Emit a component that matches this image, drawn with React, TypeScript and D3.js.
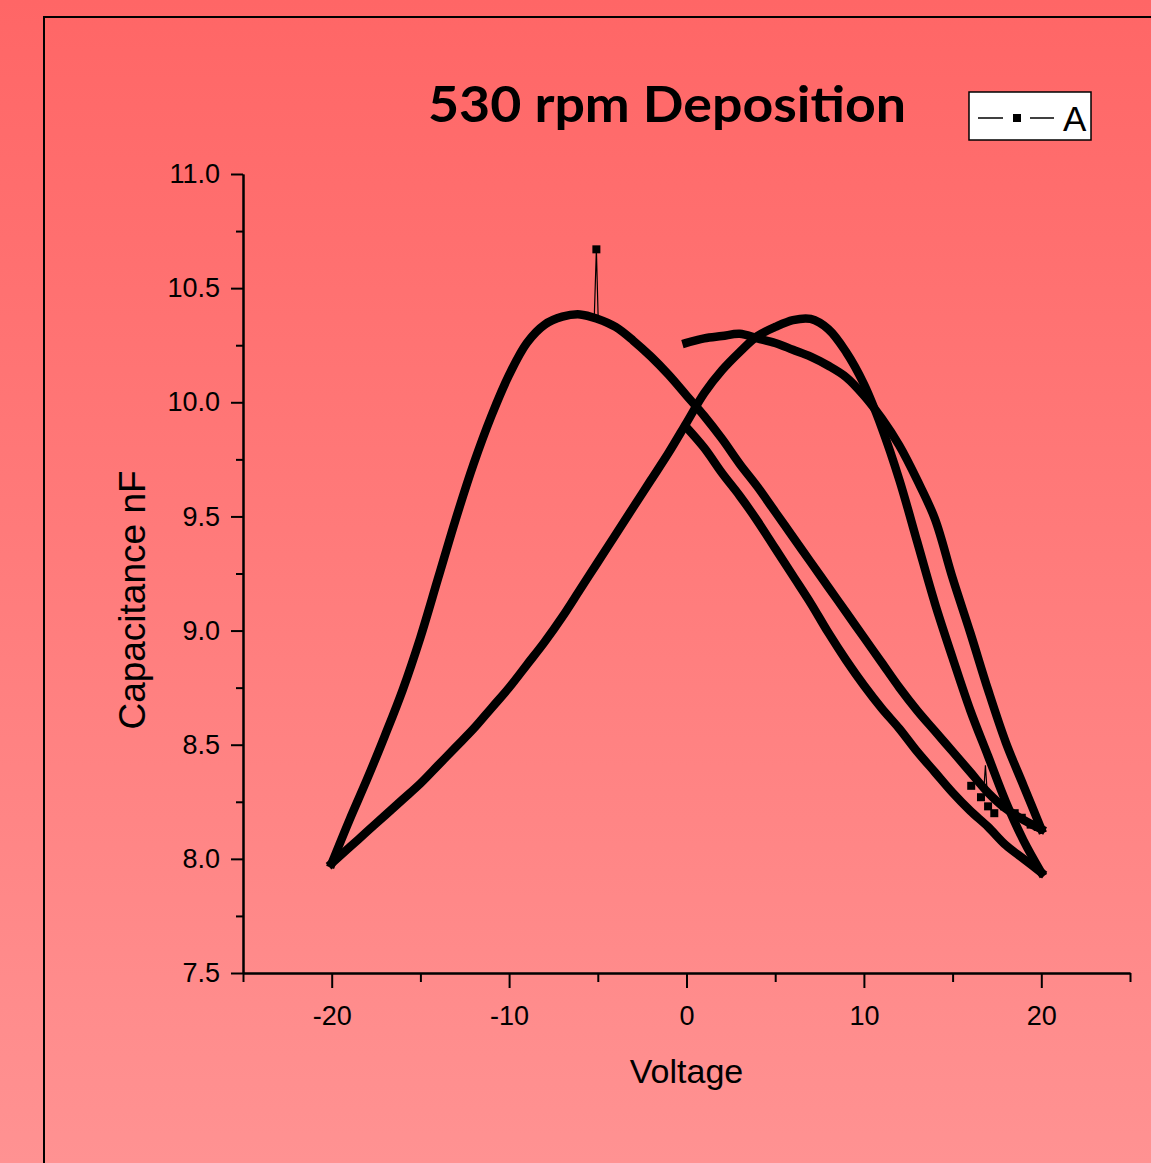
import React, { useRef, useEffect } from 'react'
import * as d3 from 'd3'

// forward sweep 0 V -> +20 V
const sweep1V = [0, 1, 2, 3, 4, 5, 6, 7, 8, 9, 10, 11, 12, 13, 14, 15, 16, 17, 18, 19, 20]
const sweep1C = [10.26, 10.28, 10.29, 10.30, 10.28, 10.26, 10.23, 10.20, 10.16, 10.11, 10.03, 9.93, 9.81, 9.66, 9.49, 9.23, 8.99, 8.74, 8.51, 8.32, 8.13]

// +20 V -> -20 V
const sweep2V = [20, 19, 18, 17, 16, 15, 14, 13, 12, 11, 10, 9, 8, 7, 6, 5, 4, 3, 2, 1, 0,
  -1, -2, -3, -4, -5, -6, -7, -8, -9, -10, -11, -12, -13, -14, -15, -16, -17, -18, -19, -20]
const sweep2C = [8.13, 8.17, 8.22, 8.29, 8.38, 8.47, 8.56, 8.65, 8.75, 8.86, 8.97, 9.08, 9.19, 9.30, 9.41, 9.52, 9.63, 9.73, 9.84, 9.94, 10.03,
  10.12, 10.20, 10.27, 10.33, 10.365, 10.385, 10.375, 10.34, 10.26, 10.12, 9.94, 9.73, 9.49, 9.23, 8.97, 8.74, 8.54, 8.35, 8.17, 7.98]

// -20 V -> +20 V
const sweep3V = [-20, -19, -18, -17, -16, -15, -14, -13, -12, -11, -10, -9, -8, -7, -6, -5, -4, -3, -2, -1, 0,
  1, 2, 3, 4, 5, 6, 7, 8, 9, 10, 11, 12, 13, 14, 15, 16, 17, 18, 19, 20]
const sweep3C = [7.98, 8.05, 8.12, 8.19, 8.26, 8.33, 8.41, 8.49, 8.57, 8.66, 8.75, 8.85, 8.95, 9.06, 9.18, 9.30, 9.42, 9.54, 9.66, 9.78, 9.91,
  10.04, 10.14, 10.22, 10.29, 10.33, 10.36, 10.365, 10.32, 10.22, 10.08, 9.89, 9.66, 9.39, 9.12, 8.88, 8.65, 8.45, 8.25, 8.08, 7.94]

// +20 V -> 0 V
const sweep4V = [20, 19, 18, 17, 16, 15, 14, 13, 12, 11, 10, 9, 8, 7, 6, 5, 4, 3, 2, 1, 0]
const sweep4C = [7.94, 8.00, 8.06, 8.14, 8.21, 8.29, 8.38, 8.47, 8.57, 8.66, 8.76, 8.87, 8.99, 9.12, 9.24, 9.36, 9.48, 9.59, 9.69, 9.80, 9.89]

// outliers
const spikeV = [-5.2, -5.08, -4.98]
const spikeC = [10.37, 10.67, 10.37]
const bumpV = [16.75, 16.85, 16.95]
const bumpC = [8.29, 8.41, 8.29]
const noiseV = [16.05, 16.6, 17.0, 17.35, 17.9, 18.5, 18.9, 19.4, 19.8]
const noiseC = [8.32, 8.27, 8.23, 8.20, 8.23, 8.20, 8.18, 8.15, 8.14]

const xMajor = [-20, -10, 0, 10, 20]
const xMinor = [-25, -15, -5, 5, 15, 25]
const yMajor = [7.5, 8.0, 8.5, 9.0, 9.5, 10.0, 10.5, 11.0]
const yMinor = [7.75, 8.25, 8.75, 9.25, 9.75, 10.25, 10.75]

const W = 1151
const H = 1163

export default function App() {
  const canvas = useRef(null)

  const margin = { top: 174, left: 243 }
  const width = 887
  const height = 799

  useEffect(() => {
    const root = d3.select(canvas.current)
    root.selectAll('*').remove()

    const defs = root.append('defs')
    const grad = defs.append('linearGradient').attr('id', 'bg').attr('x1', 0).attr('y1', 0).attr('x2', 0).attr('y2', 1)
    grad.append('stop').attr('offset', '0%').attr('stop-color', '#ff6666')
    grad.append('stop').attr('offset', '100%').attr('stop-color', '#ff9292')
    root.append('rect').attr('width', W).attr('height', H).attr('fill', 'url(#bg)')

    // frame
    root.append('path').attr('d', `M44,${H} V17 H${W}`).attr('fill', 'none').attr('stroke', '#000').attr('stroke-width', 2)

    root.append('text').attr('x', 667).attr('y', 122).attr('text-anchor', 'middle')
      .attr('font-family', 'Lato, "Open Sans", sans-serif').attr('font-weight', 700).attr('font-size', 50)
      .attr('textLength', 478).attr('lengthAdjust', 'spacingAndGlyphs')
      .text('530 rpm Deposition')

    const svg = root.append('g').attr('transform', `translate(${margin.left}, ${margin.top})`)

    const x = d3.scaleLinear().domain([-25, 25]).range([0, width])
    const y = d3.scaleLinear().domain([7.5, 11]).range([height, 0])

    const font = '"Liberation Sans", Arial, sans-serif'

    const xMinorAxis = svg.append('g').attr('transform', `translate(0,${height})`)
      .call(d3.axisBottom(x).tickValues(xMinor).tickSize(9).tickSizeOuter(0).tickFormat(() => ''))
    const xAxis = svg.append('g').attr('transform', `translate(0,${height})`)
      .call(d3.axisBottom(x).tickValues(xMajor).tickSize(15).tickSizeOuter(0).tickPadding(18).tickFormat(d => String(d)))
    const yMinorAxis = svg.append('g')
      .call(d3.axisLeft(y).tickValues(yMinor).tickSize(7).tickSizeOuter(0).tickFormat(() => ''))
    const yAxis = svg.append('g')
      .call(d3.axisLeft(y).tickValues(yMajor).tickSize(12).tickSizeOuter(0).tickPadding(11).tickFormat(d => d.toFixed(1)))

    ;[xMinorAxis, xAxis, yMinorAxis, yAxis].forEach(a => {
      a.selectAll('path,line').attr('stroke', '#000').attr('stroke-width', 2)
      a.selectAll('text').attr('font-family', font).attr('font-size', 27).attr('fill', '#000')
    })

    svg.append('text').attr('x', x(0)).attr('y', 1083 - margin.top).attr('text-anchor', 'middle')
      .attr('font-family', font).attr('font-size', 34).text('Voltage')
    svg.append('text').attr('transform', `translate(${145 - margin.left}, ${600 - margin.top}) rotate(-90)`)
      .attr('text-anchor', 'middle').attr('font-family', font).attr('font-size', 37).text('Capacitance nF')

    const line = d3.line().x(d => x(d[0])).y(d => y(d[1])).curve(d3.curveCatmullRom)
    const zip = (vs, cs) => vs.map((v, i) => [v, cs[i]])
    const sweeps = [zip(sweep1V, sweep1C), zip(sweep2V, sweep2C), zip(sweep3V, sweep3C), zip(sweep4V, sweep4C)]

    sweeps.forEach(s => {
      svg.append('path').datum(s).attr('d', line).attr('fill', 'none').attr('stroke', '#000')
        .attr('stroke-width', 8.5).attr('stroke-linejoin', 'round').attr('stroke-linecap', 'square')
    })

    const thin = d3.line().x(d => x(d[0])).y(d => y(d[1]))
    ;[zip(spikeV, spikeC), zip(bumpV, bumpC)].forEach(s => {
      svg.append('path').datum(s).attr('d', thin).attr('fill', 'none').attr('stroke', '#000').attr('stroke-width', 1.2)
    })

    const pts = zip(noiseV, noiseC).concat([[spikeV[1], spikeC[1]]])
    svg.append('g').selectAll('rect').data(pts).join('rect')
      .attr('x', d => x(d[0]) - 4).attr('y', d => y(d[1]) - 4)
      .attr('width', 8).attr('height', 8).attr('fill', '#000')

    // legend
    const lg = root.append('g')
    lg.append('rect').attr('x', 969).attr('y', 92).attr('width', 122).attr('height', 48)
      .attr('fill', '#fff').attr('stroke', '#000').attr('stroke-width', 1.5)
    lg.append('line').attr('x1', 978).attr('x2', 1003).attr('y1', 118).attr('y2', 118).attr('stroke', '#000').attr('stroke-width', 1.5)
    lg.append('rect').attr('x', 1013).attr('y', 114).attr('width', 8).attr('height', 8).attr('fill', '#000')
    lg.append('line').attr('x1', 1030).attr('x2', 1054).attr('y1', 118).attr('y2', 118).attr('stroke', '#000').attr('stroke-width', 1.5)
    lg.append('text').attr('x', 1063).attr('y', 131).attr('font-family', font).attr('font-size', 35).text('A')
  })

  return (
    <svg ref={canvas} width={W} height={H} style={{ position: 'absolute', left: 0, top: 0 }} />
  )
}
